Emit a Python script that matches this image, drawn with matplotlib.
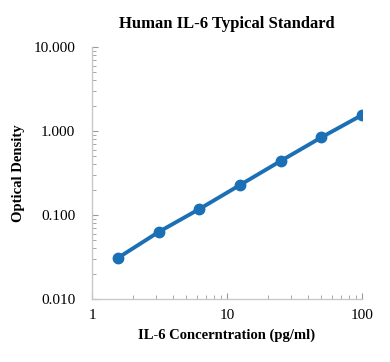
import numpy as np
import matplotlib.pyplot as plt
from matplotlib.ticker import LogLocator, NullFormatter

conc = [1.5625, 3.125, 6.25, 12.5, 25, 50, 100]
od = [0.031, 0.063, 0.118, 0.228, 0.44, 0.84, 1.55]

xticks = [1, 10, 100]
xticklabels = ['1', '10', '100']
yticks = [0.01, 0.1, 1, 10]
yticklabels = ['0.010', '0.100', '1.000', '10.000']

plt.rcParams['font.family'] = ['Liberation Serif', 'DejaVu Serif']

fig = plt.figure(figsize=(3.9, 3.62), dpi=100)
ax = fig.add_axes([0.236, 0.174, 0.692, 0.696])

ax.plot(conc, od, color='#1a6fb5', lw=2.8, marker='o', ms=7.5)

ax.set_xscale('log')
ax.set_yscale('log')
ax.set_xlim(1, 100)
ax.set_ylim(0.01, 10)
ax.set_xticks(xticks)
ax.set_xticklabels(xticklabels)
ax.set_yticks(yticks)
ax.set_yticklabels(yticklabels)
ax.xaxis.set_minor_locator(LogLocator(base=10, subs=np.arange(2, 10)))
ax.yaxis.set_minor_locator(LogLocator(base=10, subs=np.arange(2, 10)))
ax.xaxis.set_minor_formatter(NullFormatter())
ax.yaxis.set_minor_formatter(NullFormatter())

for s in ['top', 'right']:
    ax.spines[s].set_visible(False)
for s in ['left', 'bottom']:
    ax.spines[s].set_color('#c8c8c8')
    ax.spines[s].set_linewidth(1.0)

ax.tick_params(which='both', direction='in', color='#999999', labelsize=11)
ax.tick_params(which='major', length=4)
ax.tick_params(which='minor', length=3)
ax.tick_params(axis='x', pad=7)
ax.tick_params(axis='y', pad=12)

ax.set_title('Human IL-6 Typical Standard', fontsize=12, fontweight='bold', pad=14)
ax.set_xlabel('IL-6 Concerntration (pg/ml)', fontsize=10.5, fontweight='bold', labelpad=5)
ax.set_ylabel('Optical Density', fontsize=10.5, fontweight='bold', labelpad=6)

fig.savefig('out.png', dpi=100)
